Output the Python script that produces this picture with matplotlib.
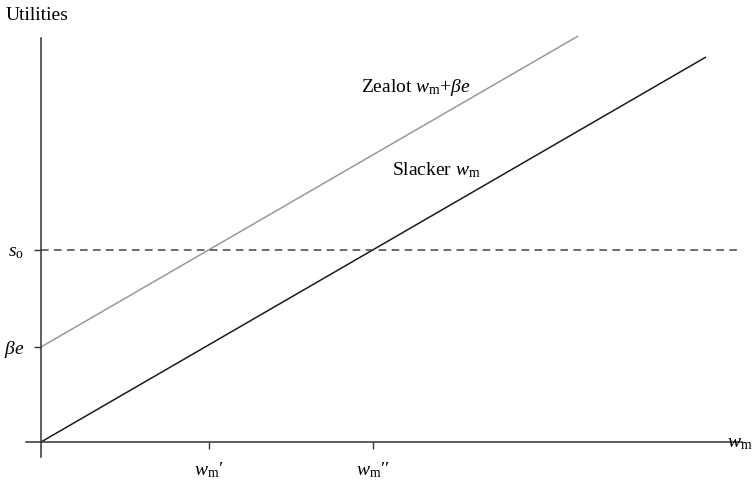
import matplotlib
matplotlib.use("Agg")
import matplotlib.pyplot as plt

plt.rcParams['font.family'] = ['Liberation Serif', 'DejaVu Serif']
plt.rcParams['mathtext.fontset'] = 'custom'
plt.rcParams['mathtext.rm'] = 'Liberation Serif'
plt.rcParams['mathtext.it'] = 'Liberation Serif:italic'
plt.rcParams['mathtext.bf'] = 'Liberation Serif:bold'

# Data (utility units)
beta_e = 95
s_o = 192
slacker_w = [0, 385]
slacker_u = [0, 385]
zealot_w = [0, 311]
zealot_u = [95, 406]
x_ticks = [97, 192]
x_tick_labels = [r"$w_{\mathrm{m}}{\prime}$", r"$w_{\mathrm{m}}{\prime\prime}$"]
y_ticks = [95, 192]
y_tick_labels = [r"$\beta e$", r"$s_{\mathrm{o}}$"]

fig = plt.figure(figsize=(7.53, 4.86), dpi=100)
ax = fig.add_axes([26/753, (486-457)/486, (742-26)/753, (457-38)/486])

xscale = 665/385.0
ax.set_xlim(-15/xscale, (742-41)/xscale)
ax.set_ylim(-15, 404)

ax.plot(slacker_w, slacker_u, color='#1a1a1a', lw=1.1, solid_capstyle='butt', clip_on=False)
ax.plot(zealot_w, zealot_u, color='#999999', lw=1.1, solid_capstyle='butt', clip_on=False)
ax.axhline(s_o, color='#444444', lw=1.1, linestyle=(0, (5, 3.5)), xmin=15/716)

for side in ['top', 'right']:
    ax.spines[side].set_visible(False)
ax.spines['left'].set_position(('data', 0))
ax.spines['bottom'].set_position(('data', 0))
ax.spines['left'].set_color('#333333')
ax.spines['bottom'].set_color('#333333')
ax.spines['left'].set_linewidth(1.1)
ax.spines['bottom'].set_linewidth(1.1)

ax.set_xticks(x_ticks)
ax.set_xticklabels(x_tick_labels, fontsize=14)
ax.set_yticks(y_ticks)
ax.set_yticklabels(y_tick_labels, fontsize=14)
ax.tick_params(axis='x', direction='out', length=5, width=1, color='#333333', pad=8)
ax.tick_params(axis='y', direction='out', length=5, width=1, color='#333333', pad=7)

fig.text(6/753, 1 - 15/486, "Utilities", fontsize=14, va='center', ha='left')
fig.text(727/753, 1 - 443/486, r"$w_{\mathrm{m}}$", fontsize=14, va='center', ha='left')

ax.text(361 / xscale - 41/xscale, 442 - 88, r"Zealot $w_{\mathrm{m}}$+$\beta e$", fontsize=14,
        ha='left', va='center')
ax.text(392 / xscale - 41/xscale, 442 - 170, r"Slacker $w_{\mathrm{m}}$", fontsize=14,
        ha='left', va='center')

fig.savefig("out.png", dpi=100)
